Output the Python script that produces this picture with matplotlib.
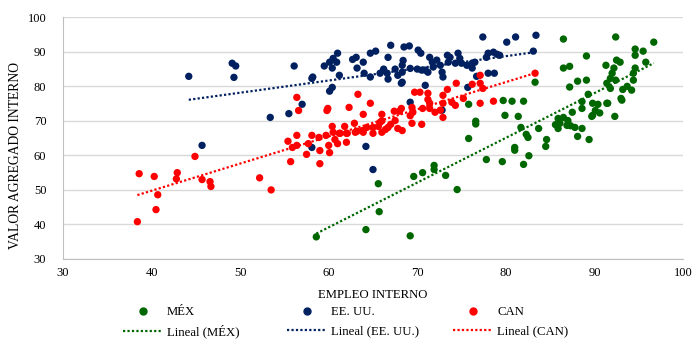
import matplotlib
matplotlib.use("Agg")
import matplotlib.pyplot as plt
from matplotlib.lines import Line2D
import numpy as np

plt.rcParams['font.family'] = ['Liberation Serif', 'DejaVu Serif']

# MÉX (empleo interno, valor agregado interno)
mex_x = [58.6, 64.2, 69.2, 65.7, 65.6, 69.6, 70.6, 71.9, 71.9, 73.2, 74.5, 75.8, 75.8,
         76.6, 76.6, 77.8, 79.6, 79.7, 80.7, 82.0, 79.9, 81.4, 81.7, 82.3, 82.5, 81.0,
         81.0, 82.6, 82.0, 83.7, 84.6, 84.5, 83.3, 85.9, 86.5, 87.0, 86.1, 86.9, 85.9,
         87.5, 87.8, 88.6, 88.1, 89.4, 88.6, 88.6, 89.8, 90.6, 91.4, 92.3, 93.1, 86.5,
         92.4, 96.7, 94.6, 95.5, 94.6, 89.1, 95.8, 92.5, 92.9, 91.3, 86.5, 87.2, 92.2,
         94.6, 92.0, 94.4, 91.8, 92.4, 94.4, 91.4, 88.1, 89.1, 87.2, 93.7, 93.2, 94.2,
         91.8, 89.3, 93.0, 89.8, 90.4, 91.5, 90.1, 89.7, 85.6, 87.3]
mex_y = [36.4, 38.5, 36.7, 43.7, 51.8, 53.9, 55.0, 57.1, 55.9, 54.2, 50.1, 64.9, 74.8,
         69.9, 69.1, 58.8, 58.2, 75.9, 75.7, 75.7, 71.6, 71.3, 68.1, 66.1, 65.2, 62.3,
         61.5, 59.9, 57.4, 67.8, 64.6, 62.6, 81.2, 70.7, 71.0, 70.1, 69.3, 68.7, 67.8,
         72.5, 68.1, 67.8, 65.5, 64.6, 73.6, 75.6, 71.6, 72.3, 75.1, 71.3, 76.0, 93.7,
         94.3, 92.8, 90.8, 90.2, 89.0, 88.8, 87.0, 87.6, 87.0, 86.1, 85.3, 85.8, 85.3,
         85.3, 83.8, 83.8, 82.3, 81.8, 81.8, 80.9, 81.5, 81.8, 79.8, 80.0, 79.1, 78.9,
         79.4, 77.7, 76.5, 75.1, 74.8, 75.1, 73.0, 71.3, 68.9, 68.6]

# EE. UU.
usa_x = [44.2, 49.1, 49.5, 49.3, 56.1, 58.1, 58.2, 60.1, 60.4, 57.0, 55.5, 53.4, 59.5,
         60.1, 60.5, 60.9, 61.0, 60.4, 61.2, 62.7, 63.1, 63.2, 63.9, 64.0, 64.7, 64.7,
         65.3, 65.8, 45.7, 58.1, 64.2, 65.0, 67.0, 66.7, 66.2, 66.6, 66.7, 67.5, 67.8,
         68.2, 68.3, 68.5, 69.1, 70.1, 70.4, 68.3, 68.3, 69.2, 70.0, 70.5, 70.9, 71.4,
         71.7, 72.2, 71.8, 71.2, 72.6, 72.8, 72.9, 73.4, 73.7, 73.5, 74.6, 74.8, 74.3,
         75.0, 75.6, 76.2, 76.5, 76.2, 77.4, 77.8, 78.0, 78.6, 79.0, 79.3, 80.1, 81.1,
         83.1, 83.4, 78.0, 78.7, 75.7, 70.9, 69.2, 72.8, 76.7, 68.4]
usa_y = [82.9, 86.7, 85.9, 82.6, 85.9, 82.3, 82.7, 78.6, 79.7, 74.8, 72.1, 71.0, 85.9,
         87.0, 88.1, 87.0, 89.6, 85.3, 83.2, 87.8, 88.4, 85.3, 87.0, 83.8, 82.7, 89.6,
         90.2, 83.8, 62.9, 62.3, 62.6, 55.9, 91.9, 88.4, 85.0, 83.8, 82.1, 85.0, 83.2,
         80.9, 86.1, 91.4, 91.7, 90.5, 89.6, 84.1, 81.2, 85.2, 85.0, 84.7, 84.7, 88.4,
         87.0, 87.6, 85.6, 84.1, 86.1, 84.1, 82.7, 89.0, 88.4, 87.0, 89.6, 88.1, 86.7,
         86.7, 86.1, 86.7, 87.0, 85.3, 94.3, 88.4, 89.6, 89.9, 89.3, 89.0, 92.8, 94.3,
         90.2, 94.8, 83.8, 83.8, 79.7, 80.3, 75.4, 73.1, 82.9, 87.5]

# CAN
can_x = [38.4, 38.6, 40.3, 40.7, 40.5, 42.9, 42.8, 44.9, 45.7, 46.6, 46.7, 52.2, 53.5,
         55.7, 57.5, 59.0, 59.0, 60.1, 55.4, 55.9, 56.4, 56.4, 57.7, 58.1, 58.9, 59.7,
         60.0, 61.0, 60.7, 62.0, 61.2, 62.0, 63.0, 63.9, 65.0, 56.4, 56.6, 59.8, 59.9,
         62.3, 63.3, 64.7, 63.9, 66.0, 67.4, 68.2, 67.5, 67.8, 60.4, 60.5, 61.3, 61.8,
         62.1, 62.9, 63.2, 63.8, 64.3, 65.0, 65.6, 66.0, 66.4, 66.7, 65.8, 77.1, 76.2,
         77.1, 74.4, 77.4, 78.6, 77.1, 75.2, 73.9, 74.3, 72.9, 73.4, 71.2, 70.3, 69.7,
         71.2, 71.4, 70.6, 71.4, 69.4, 69.5, 68.0, 72.0, 72.9, 83.3, 72.6, 69.2, 69.4,
         70.5, 68.3, 72.9, 67.0, 66.0]
can_y = [40.8, 54.7, 53.9, 48.6, 44.3, 55.0, 53.2, 59.7, 53.0, 52.4, 51.0, 53.5, 50.0,
         58.2, 60.3, 57.6, 61.4, 60.8, 64.1, 62.3, 62.9, 65.8, 63.4, 65.8, 65.2, 65.8,
         62.9, 63.4, 64.6, 63.8, 66.4, 66.4, 66.7, 66.7, 66.4, 76.8, 73.0, 73.0, 73.6,
         73.9, 77.7, 75.1, 71.9, 71.9, 72.8, 73.6, 70.1, 67.8, 68.4, 66.7, 66.4, 68.4,
         66.4, 69.3, 67.0, 67.2, 68.1, 68.1, 68.4, 66.7, 67.5, 68.1, 69.6, 83.2, 80.6,
         80.9, 80.9, 79.4, 75.7, 75.1, 76.5, 75.4, 74.5, 77.4, 79.1, 78.0, 78.3, 78.3,
         76.2, 75.1, 73.6, 73.6, 73.9, 72.5, 72.8, 72.5, 75.1, 83.8, 73.1, 71.5, 69.3,
         69.0, 67.2, 71.0, 69.0, 70.0]

series = [("MÉX", mex_x, mex_y, "#006600"),
          ("EE. UU.", usa_x, usa_y, "#002060"),
          ("CAN", can_x, can_y, "#ff0000")]

fig = plt.figure(figsize=(7, 3.49), dpi=100)
ax = fig.add_axes([0.09, 0.258, 0.8857, 0.6924])

handles = []
for name, xs, ys, col in series:
    xs = np.array(xs)
    ys = np.array(ys)
    ax.scatter(xs, ys, s=28, color=col, edgecolors='none', zorder=3)
    # linear trend line ("Lineal")
    coef = np.polyfit(xs, ys, 1)
    fx = np.array([xs.min(), xs.max()])
    ax.plot(fx, np.polyval(coef, fx), color=col, lw=1.6, linestyle=(0, (1, 1)), zorder=4)
    h1 = Line2D([], [], marker='o', linestyle='none', color=col, markersize=5)
    h2 = Line2D([], [], color=col, lw=1.6, linestyle=(0, (1, 1)))
    handles.append((h1, name, h2, "Lineal (" + name + ")"))

ax.set_xlim(30, 100)
ax.set_ylim(30, 100)
ax.set_xticks(range(30, 101, 10))
ax.set_yticks(range(30, 101, 10))
ax.grid(axis='y', color='#d9d9d9', lw=1)
ax.set_axisbelow(True)
for s in ['top', 'right']:
    ax.spines[s].set_visible(False)
for s in ['left', 'bottom']:
    ax.spines[s].set_color('#bfbfbf')
ax.tick_params(length=0, labelsize=9)
ax.tick_params(axis='y', pad=12)
ax.tick_params(axis='x', pad=6)
ax.set_xlabel("EMPLEO INTERNO", fontsize=9.2)
ax.set_ylabel("VALOR AGREGADO INTERNO", fontsize=9.8)
ax.xaxis.set_label_coords(0.5, -0.125)
ax.yaxis.set_label_coords(-0.066, 0.43)

# legend: three columns, marker row on top, trend line row below
col_x = [123, 287, 453]
for (h1, n1, h2, n2), cx in zip(handles, col_x):
    fig.legend([h1, h2], [n1, n2], loc='upper left',
               bbox_to_anchor=(cx / 700, 1 - 306 / 349), frameon=False,
               fontsize=9.2, handlelength=3.1, handletextpad=0.35,
               borderpad=0, borderaxespad=0, labelspacing=0.55)

fig.savefig("out.png", dpi=100)
